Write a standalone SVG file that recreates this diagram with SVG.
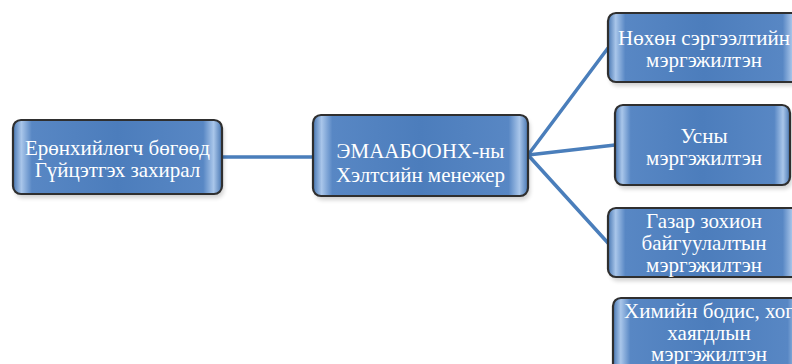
<svg xmlns="http://www.w3.org/2000/svg" width="792" height="364" viewBox="0 0 792 364">
<style>
.box{fill:url(#g);stroke:#2f2f2f;stroke-width:2.2}
.sh{fill:#000;opacity:0.18}
.t{font-family:"Liberation Serif","Times New Roman",serif;font-size:21px;fill:#fff;text-anchor:middle}
.c{stroke:#4a7ebb;stroke-width:3.5;fill:none;stroke-linecap:round}
</style>
<defs>
<linearGradient id="g" x1="0" y1="0" x2="1" y2="0">
<stop offset="0" stop-color="#4776b2"/>
<stop offset="0.04" stop-color="#a9c6ea"/>
<stop offset="0.09" stop-color="#5887c4"/>
<stop offset="0.5" stop-color="#4c7dbc"/>
<stop offset="0.91" stop-color="#5887c4"/>
<stop offset="0.96" stop-color="#a9c6ea"/>
<stop offset="1" stop-color="#4776b2"/>
</linearGradient>
<filter id="blur" x="-10%" y="-10%" width="120%" height="130%"><feGaussianBlur stdDeviation="2"/></filter>
</defs>
<g id="connectors">
<line class="c" x1="222" y1="157" x2="313" y2="157"/>
<line class="c" x1="528" y1="155" x2="608" y2="48"/>
<line class="c" x1="528" y1="155" x2="615" y2="145"/>
<line class="c" x1="528" y1="155" x2="608" y2="243"/>
</g>
<g id="n1">
<rect class="sh" x="15" y="124" width="209" height="74" rx="8" filter="url(#blur)"/>
<rect class="box" x="13" y="120" width="209" height="74" rx="8"/>
<text class="t" x="117.5" y="155">Ерөнхийлөгч бөгөөд</text>
<text class="t" x="117.5" y="177">Гүйцэтгэх захирал</text>
</g>
<g id="n2">
<rect class="sh" x="315" y="119" width="215" height="81" rx="8" filter="url(#blur)"/>
<rect class="box" x="313" y="115" width="215" height="81" rx="8"/>
<text class="t" x="420.5" y="158">ЭМААБООНХ-ны</text>
<text class="t" x="420.5" y="182">Хэлтсийн менежер</text>
</g>
<g id="n3">
<rect class="sh" x="610" y="17" width="192" height="69" rx="8" filter="url(#blur)"/>
<rect class="box" x="608" y="13" width="192" height="69" rx="8"/>
<text class="t" x="704" y="45">Нөхөн сэргээлтийн</text>
<text class="t" x="704" y="67">мэргэжилтэн</text>
</g>
<g id="n4">
<rect class="sh" x="617" y="109" width="175" height="80" rx="8" filter="url(#blur)"/>
<rect class="box" x="615" y="105" width="175" height="80" rx="8"/>
<text class="t" x="704" y="143">Усны</text>
<text class="t" x="704" y="165">мэргэжилтэн</text>
</g>
<g id="n5">
<rect class="sh" x="610" y="212" width="192" height="69" rx="8" filter="url(#blur)"/>
<rect class="box" x="608" y="208" width="192" height="69" rx="8"/>
<text class="t" x="704" y="228">Газар зохион</text>
<text class="t" x="704" y="250">байгуулалтын</text>
<text class="t" x="704" y="272">мэргэжилтэн</text>
</g>
<g id="n6">
<rect class="sh" x="615" y="302" width="192" height="80" rx="8" filter="url(#blur)"/>
<rect class="box" x="613" y="298" width="192" height="80" rx="8"/>
<text class="t" x="709" y="318">Химийн бодис, хог</text>
<text class="t" x="709" y="340">хаягдлын</text>
<text class="t" x="709" y="361">мэргэжилтэн</text>
</g>
</svg>
